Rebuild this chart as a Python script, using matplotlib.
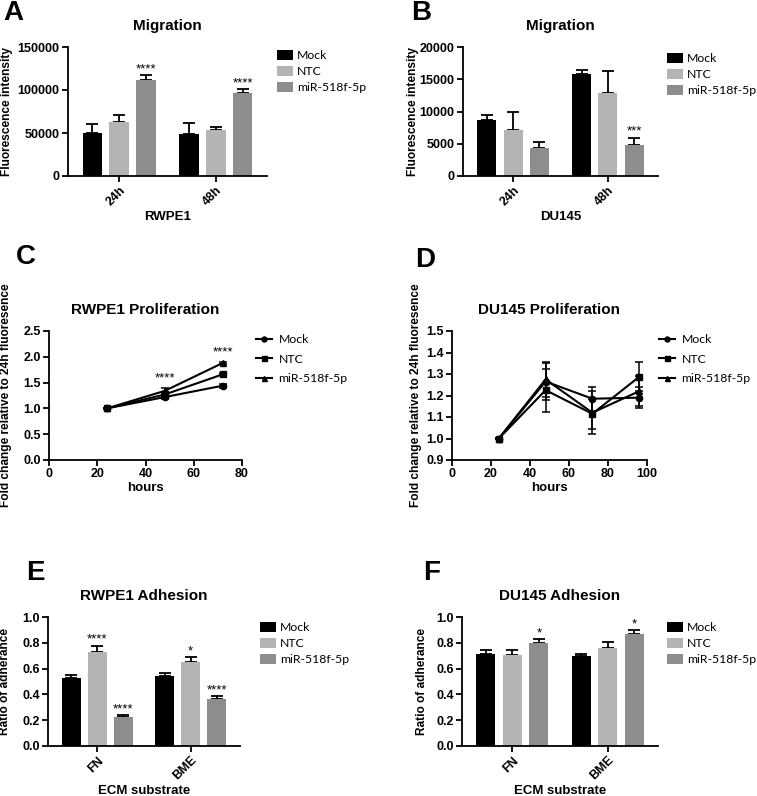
import numpy as np
import matplotlib.pyplot as plt

plt.rcParams['font.family'] = ['Liberation Sans', 'DejaVu Sans']
plt.rcParams['font.weight'] = 'bold'
plt.rcParams['axes.labelweight'] = 'bold'
plt.rcParams['axes.titleweight'] = 'bold'

# ---- data ----
series = ["Mock", "NTC", "miR-518f-5p"]

# A: RWPE1 migration
a_groups = ["24h", "48h"]
a_mock = [50400, 49200]
a_mock_err = [10500, 12400]
a_ntc = [62800, 53500]
a_ntc_err = [7700, 3500]
a_mir = [111200, 96900]
a_mir_err = [5800, 3900]
a_stars = [["", ""], ["", ""], ["****", "****"]]

# B: DU145 migration
b_groups = ["24h", "48h"]
b_mock = [8730, 15870]
b_mock_err = [670, 620]
b_ntc = [7180, 12920]
b_ntc_err = [2740, 3360]
b_mir = [4340, 4860]
b_mir_err = [930, 1090]
b_stars = [["", ""], ["", ""], ["", "***"]]

# C: RWPE1 proliferation
c_hours = [24, 48, 72]
c_mock = [1.0, 1.22, 1.44]
c_mock_err = [0.01, 0.03, 0.04]
c_ntc = [1.0, 1.27, 1.66]
c_ntc_err = [0.01, 0.03, 0.02]
c_mir = [1.0, 1.34, 1.88]
c_mir_err = [0.01, 0.05, 0.01]
c_stars = ["", "****", "****"]

# D: DU145 proliferation
d_hours = [24, 48, 72, 96]
d_mock = [1.0, 1.265, 1.185, 1.19]
d_mock_err = [0.003, 0.085, 0.055, 0.05]
d_ntc = [1.0, 1.225, 1.115, 1.287]
d_ntc_err = [0.003, 0.10, 0.07, 0.067]
d_mir = [1.0, 1.275, 1.12, 1.22]
d_mir_err = [0.003, 0.08, 0.10, 0.07]

# E: RWPE1 adhesion
e_groups = ["FN", "BME"]
e_mock = [0.526, 0.546]
e_mock_err = [0.023, 0.023]
e_ntc = [0.729, 0.652]
e_ntc_err = [0.05, 0.036]
e_mir = [0.227, 0.361]
e_mir_err = [0.015, 0.026]
e_stars = [["", ""], ["****", "*"], ["****", "****"]]

# F: DU145 adhesion
f_groups = ["FN", "BME"]
f_mock = [0.716, 0.698]
f_mock_err = [0.026, 0.018]
f_ntc = [0.709, 0.763]
f_ntc_err = [0.038, 0.044]
f_mir = [0.799, 0.871]
f_mir_err = [0.031, 0.026]
f_stars = [["", ""], ["", ""], ["*", "*"]]

# ---- style ----
bar_colors = ["#000000", "#b4b4b4", "#8d8d8d"]
markers = ["o", "s", "^"]
legend_font = {'family': 'Lato', 'weight': 'normal', 'size': 8.8}

W, H = 757, 796
fig = plt.figure(figsize=(W / 100, H / 100), dpi=100)


def box(x0, y0, x1, y1):
    # pixel box (top-left origin) -> figure fraction rect
    return [x0 / W, 1 - y1 / H, (x1 - x0) / W, (y1 - y0) / H]


def fxy(x, y):
    return (x / W, 1 - y / H)


def style_axes(ax):
    for s in ['top', 'right']:
        ax.spines[s].set_visible(False)
    for s in ['left', 'bottom']:
        ax.spines[s].set_linewidth(1.3)
    ax.tick_params(direction='out', length=4, width=1.3, labelsize=9, pad=2)


def label_axes(ax, title, xlabel, ylabel, ylab_px, xlab_py):
    ax.set_title(title, fontsize=11, pad=12)
    pos = ax.get_position()
    ax.set_ylabel(ylabel, fontsize=8.6, va='center')
    ax.yaxis.set_label_coords(ylab_px / W, pos.y0 + pos.height / 2, transform=fig.transFigure)
    ax.set_xlabel(xlabel, fontsize=9.5, va='center')
    ax.xaxis.set_label_coords(pos.x0 + pos.width / 2, 1 - xlab_py / H, transform=fig.transFigure)


def bar_panel(rect, groups, means, errs, stars, ylim, yticks, yfmt,
              title, xlabel, ylabel, ylab_px, xlab_py, leg_xy):
    ax = fig.add_axes(box(*rect))
    offset, width = 3.6, 0.72
    for i, name in enumerate(series):
        xs = np.arange(len(groups)) * offset + i
        ax.bar(xs, means[i], width=width, color=bar_colors[i], label=name, zorder=2)
        lower = np.zeros(len(groups))
        ax.errorbar(xs, means[i], yerr=[lower, errs[i]], fmt='none', ecolor='black',
                    elinewidth=1.3, capsize=4, capthick=1.3, zorder=1)
        for j, s in enumerate(stars[i]):
            if s:
                ax.annotate(s, (xs[j], means[i][j] + errs[i][j]), xytext=(0, 2),
                            textcoords='offset points', ha='center', va='baseline',
                            fontsize=9.5, fontweight='normal')
    ax.set_xlim(-0.9, offset + 2.9)
    ax.set_xticks(np.arange(len(groups)) * offset + 1)
    ax.set_xticklabels(groups, rotation=45, ha='right', rotation_mode='anchor')
    ax.set_ylim(*ylim)
    ax.set_yticks(yticks)
    ax.set_yticklabels([yfmt.format(v) for v in yticks])
    style_axes(ax)
    label_axes(ax, title, xlabel, ylabel, ylab_px, xlab_py)
    ax.legend(loc='upper left', bbox_to_anchor=fxy(*leg_xy), bbox_transform=fig.transFigure,
              frameon=False, prop=legend_font, borderpad=0, borderaxespad=0,
              handlelength=1.3, handleheight=0.85, handletextpad=0.35, labelspacing=0.4)
    return ax


def line_panel(rect, hours, means, errs, stars, xlim, xticks, ylim, yticks,
               title, ylab_px, xlab_py, leg_xy):
    ax = fig.add_axes(box(*rect))
    handles = []
    for i, name in enumerate(series):
        cont = ax.errorbar(hours, means[i], yerr=errs[i], color='black', lw=1.5,
                           marker=markers[i], ms=4.5, capsize=3, elinewidth=1.1,
                           capthick=1.1, label=name)
        handles.append(cont[0])
    if stars:
        tops = np.max(np.array(means) + np.array(errs), axis=0)
        for h, t, s in zip(hours, tops, stars):
            if s:
                ax.annotate(s, (h, t), xytext=(0, 5), textcoords='offset points',
                            ha='center', va='baseline', fontsize=9.5, fontweight='normal')
    ax.set_xlim(*xlim)
    ax.set_xticks(xticks)
    ax.set_ylim(*ylim)
    ax.set_yticks(yticks)
    ax.set_yticklabels(["{:.1f}".format(v) for v in yticks])
    style_axes(ax)
    label_axes(ax, title, "hours", "Fold change relative to 24h fluoresence", ylab_px, xlab_py)
    ax.legend(handles, series, loc='upper left', bbox_to_anchor=fxy(*leg_xy),
              bbox_transform=fig.transFigure, frameon=False, prop=legend_font,
              borderpad=0, borderaxespad=0, handlelength=1.3, handletextpad=0.55,
              labelspacing=0.7, markerscale=0.8)
    return ax


bar_panel((68, 47, 267, 176), a_groups, [a_mock, a_ntc, a_mir],
          [a_mock_err, a_ntc_err, a_mir_err], a_stars, (0, 150000),
          [0, 50000, 100000, 150000], "{:d}", "Migration", "RWPE1",
          "Fluorescence intensity", 7, 217, (277, 50))

bar_panel((463, 47, 658, 176), b_groups, [b_mock, b_ntc, b_mir],
          [b_mock_err, b_ntc_err, b_mir_err], b_stars, (0, 20000),
          [0, 5000, 10000, 15000, 20000], "{:d}", "Migration", "DU145",
          "Fluorescence intensity", 413, 217, (667, 53))

line_panel((49, 331, 242, 460), c_hours, [c_mock, c_ntc, c_mir],
           [c_mock_err, c_ntc_err, c_mir_err], c_stars, (0, 80),
           [0, 20, 40, 60, 80], (0, 2.5), [0.0, 0.5, 1.0, 1.5, 2.0, 2.5],
           "RWPE1 Proliferation", 6, 488, (256, 334))

line_panel((452, 331, 647, 460), d_hours, [d_mock, d_ntc, d_mir],
           [d_mock_err, d_ntc_err, d_mir_err], None, (0, 100),
           [0, 20, 40, 60, 80, 100], (0.9, 1.5),
           [0.9, 1.0, 1.1, 1.2, 1.3, 1.4, 1.5],
           "DU145 Proliferation", 416, 488, (659, 334))

bar_panel((48, 617, 240, 746), e_groups, [e_mock, e_ntc, e_mir],
          [e_mock_err, e_ntc_err, e_mir_err], e_stars, (0, 1.0),
          [0.0, 0.2, 0.4, 0.6, 0.8, 1.0], "{:.1f}", "RWPE1 Adhesion",
          "ECM substrate", "Ratio of adherance", 5, 791, (260, 622))

bar_panel((462, 617, 658, 746), f_groups, [f_mock, f_ntc, f_mir],
          [f_mock_err, f_ntc_err, f_mir_err], f_stars, (0, 1.0),
          [0.0, 0.2, 0.4, 0.6, 0.8, 1.0], "{:.1f}", "DU145 Adhesion",
          "ECM substrate", "Ratio of adherance", 422, 791, (667, 622))

# panel letters
for letter, (x, y) in zip("ABCDEF", [(3, 0), (411, 0), (16, 244), (415, 247),
                                     (26, 560), (423, 560)]):
    fig.text(*fxy(x, y), letter, fontsize=20, fontweight='bold', ha='left', va='top')

fig.savefig("out.png", dpi=100)
